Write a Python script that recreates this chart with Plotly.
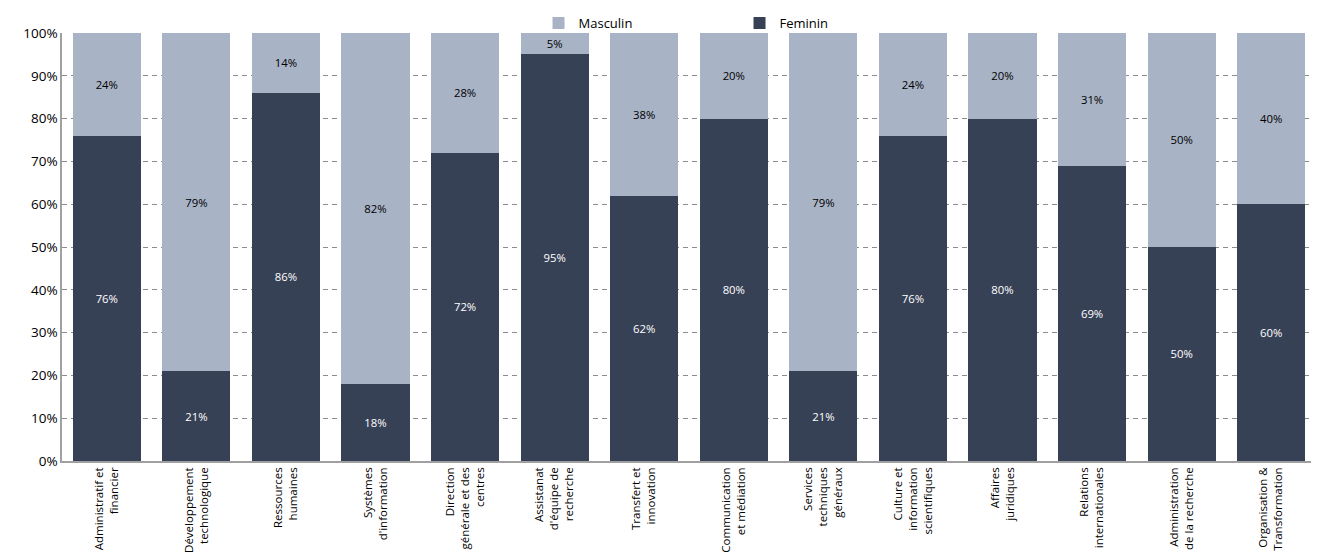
import plotly.graph_objects as go

# Categories (x-axis labels, line breaks as in the original)
categories = [
    "Administratif et<br>financier",
    "Développement<br>technologique",
    "Ressources<br>humaines",
    "Systèmes<br>d'information",
    "Direction<br>générale et des<br>centres",
    "Assistanat<br>d'équipe de<br>recherche",
    "Transfert et<br>innovation",
    "Communication<br>et médiation",
    "Services<br>techniques<br>généraux",
    "Culture et<br>information<br>scientifiques",
    "Affaires<br>juridiques",
    "Relations<br>internationales",
    "Administration<br>de la recherche",
    "Organisation &<br>Transformation",
]

# Share of women / men (%)
feminin = [76, 21, 86, 18, 72, 95, 62, 80, 21, 76, 80, 69, 50, 60]
masculin = [24, 79, 14, 82, 28, 5, 38, 20, 79, 24, 20, 31, 50, 40]

y_ticks = list(range(0, 101, 10))
y_tick_labels = [f"{v}%" for v in y_ticks]

dark = "#374155"
light = "#A9B3C6"
font_family = "Open Sans, Liberation Sans, sans-serif"

fig = go.Figure()

fig.add_trace(go.Bar(
    x=categories,
    y=feminin,
    name="Feminin",
    marker=dict(color=dark, line=dict(width=0)),
    text=[f"{v}%" for v in feminin],
    textposition="inside",
    insidetextanchor="middle",
    textangle=0,
    textfont=dict(color="white", size=14, family=font_family),
))

fig.add_trace(go.Bar(
    x=categories,
    y=masculin,
    name="Masculin",
    marker=dict(color=light, line=dict(width=0)),
    text=[f"{v}%" for v in masculin],
    textposition="inside",
    insidetextanchor="middle",
    textangle=0,
    textfont=dict(color="black", size=14, family=font_family),
))

# the page body adds an 8px offset, so the figure is 8px smaller than the window
fig.update_layout(
    barmode="stack",
    bargap=0.24,
    width=1311,
    height=546,
    margin=dict(l=54, r=3, t=25, b=93, autoexpand=False),
    plot_bgcolor="white",
    paper_bgcolor="white",
    font=dict(family=font_family, color="black"),
    uniformtext=dict(minsize=8, mode="show"),
    legend=dict(
        orientation="h",
        traceorder="reversed",
        x=0.38,
        xanchor="left",
        yref="container",
        y=1.0,
        yanchor="top",
        font=dict(size=13),
        bgcolor="rgba(0,0,0,0)",
        entrywidth=156,
        entrywidthmode="pixels",
        itemwidth=30,
    ),
    xaxis=dict(
        tickangle=-90,
        tickfont=dict(size=11.5),
        showline=True,
        linecolor="#A0A0A0",
        linewidth=1.5,
        showgrid=False,
        ticks="",
        automargin=False,
    ),
    yaxis=dict(
        range=[0, 100],
        tickvals=y_ticks,
        ticktext=y_tick_labels,
        tickfont=dict(size=13.5),
        showline=True,
        linecolor="#A0A0A0",
        linewidth=1.5,
        showgrid=True,
        gridcolor="#8C8C8C",
        griddash="5px,4px",
        gridwidth=1,
        zeroline=False,
        ticks="",
        automargin=False,
    ),
)

fig.write_html("out.html")
